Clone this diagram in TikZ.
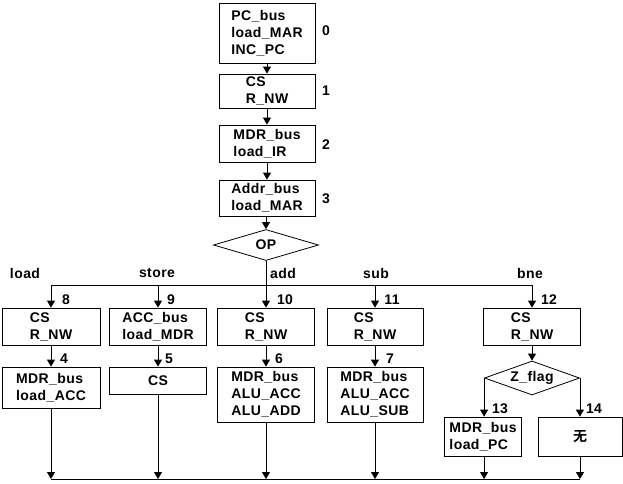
\documentclass[tikz,border=0pt]{standalone}
\usepackage{fontspec}
\setmainfont{Liberation Sans}[LetterSpace=3]
\newfontfamily\cjk{Noto Sans CJK SC}[BoldFont={* Bold}]
\usetikzlibrary{arrows.meta,shapes.geometric}
\begin{document}
\begin{tikzpicture}[x=1pt,y=-1pt,
  font=\fontsize{14}{17}\selectfont\bfseries,
  box/.style={draw,line width=0.8pt,align=left,inner sep=0pt},
  dia/.style={draw,line width=0.8pt,diamond,inner sep=0pt,aspect=3},
  lbl/.style={inner sep=0pt},
  arr/.style={line width=0.8pt,-{Triangle[length=7pt,width=8pt]}},
  ln/.style={line width=0.8pt}]
\useasboundingbox (0,0) rectangle (623,483);
% top chain
\node[box,minimum width=96pt,minimum height=60pt] (b0) at (267,33) {PC\_bus\\load\_MAR\\INC\_PC};
\node[box,minimum width=96pt,minimum height=34pt] (b1) at (267,91) {CS\\R\_NW};
\node[box,minimum width=96pt,minimum height=37pt] (b2) at (267,143.5) {MDR\_bus\\load\_IR};
\node[box,minimum width=96pt,minimum height=36pt] (b3) at (267,198) {Addr\_bus\\load\_MAR};
\node[lbl] (n0) at (326,31) {0};
\node[lbl] (n1) at (326,91) {1};
\node[lbl] (n2) at (326,145) {2};
\node[lbl] (n3) at (326,199) {3};
\node[dia,minimum width=105pt,minimum height=31pt] (op) at (266,245) {OP};
\draw[arr] (b0) -- (b1);
\draw[arr] (b1) -- (b2);
\draw[arr] (b2) -- (b3);
\draw[arr] (b3.south -| op.north) -- (op.north);
% row 1
\node[box,minimum width=98pt,minimum height=37pt] (b8) at (51,326.5) {CS\\R\_NW};
\node[box,minimum width=97pt,minimum height=37pt] (b9) at (158,326.5) {ACC\_bus\\load\_MDR};
\node[box,minimum width=97pt,minimum height=37pt] (b10) at (266,326.5) {CS\\R\_NW};
\node[box,minimum width=96pt,minimum height=37pt] (b11) at (375,326.5) {CS\\R\_NW};
\node[box,minimum width=97pt,minimum height=37pt] (b12) at (532,326.5) {CS\\R\_NW};
% bus
\coordinate (busL) at (51,285);
\coordinate (busR) at (532,285);
\coordinate (busM) at (266,285);
\draw[ln] (op.south) -- (busM);
\draw[ln] (busL) -- (busR);
\draw[arr] (busL) -- (b8.north);
\draw[arr] (busL -| b9.north) -- (b9.north);
\draw[arr] (busM) -- (b10.north);
\draw[arr] (busL -| b11.north) -- (b11.north);
\draw[arr] (busR) -- (b12.north);
\node[lbl] (tload) at (25,273) {load};
\node[lbl] (tstore) at (157,273) {store};
\node[lbl] (tadd) at (283,273) {add};
\node[lbl] (tsub) at (376,273) {sub};
\node[lbl] (tbne) at (530,273) {bne};
\node[lbl] (n8) at (66,300) {8};
\node[lbl] (n9) at (171,300) {9};
\node[lbl] (n10) at (285,300) {10};
\node[lbl] (n11) at (392,300) {11};
\node[lbl] (n12) at (549,300) {12};
% row 2
\node[box,minimum width=98pt,minimum height=41pt] (b4) at (51,387.5) {MDR\_bus\\load\_ACC};
\node[box,minimum width=97pt,minimum height=27pt] (b5) at (158,380.5) {CS};
\node[box,minimum width=97pt,minimum height=55pt] (b6) at (266,394.5) {MDR\_bus\\ALU\_ACC\\ALU\_ADD};
\node[box,minimum width=96pt,minimum height=55pt] (b7) at (375,394.5) {MDR\_bus\\ALU\_ACC\\ALU\_SUB};
\node[dia,minimum width=95pt,minimum height=34pt] (zf) at (532,378) {Z\_flag};
\draw[arr] (b8) -- (b4);
\draw[arr] (b9) -- (b5);
\draw[arr] (b10) -- (b6);
\draw[arr] (b11) -- (b7);
\draw[arr] (b12) -- (zf);
\node[lbl] (n4) at (64,359) {4};
\node[lbl] (n5) at (169,359) {5};
\node[lbl] (n6) at (279,359) {6};
\node[lbl] (n7) at (390,359) {7};
% branch
\node[box,minimum width=77pt,minimum height=39pt] (b13) at (483,436.5) {MDR\_bus\\load\_PC};
\node[box,minimum width=84pt,minimum height=39pt] (b14) at (580,436.5) {\cjk\bfseries 无};
\draw[arr] (zf.west) -- (zf.west |- b13.north);
\draw[arr] (zf.east) -- (zf.east |- b14.north);
\node[lbl] (n13) at (500,409) {13};
\node[lbl] (n14) at (594,409) {14};
% bottom
\coordinate (botL) at (51,479);
\coordinate (botR) at (580,479);
\draw[ln] (botL) -- (botR);
\draw[arr] (b4.south) -- (botL);
\draw[arr] (b5.south) -- (b5.south |- botL);
\draw[arr] (b6.south) -- (b6.south |- botL);
\draw[arr] (b7.south) -- (b7.south |- botL);
\draw[arr] (zf.west |- b13.south) -- (zf.west |- botL);
\draw[arr] (b14.south) -- (botR);
\end{tikzpicture}
\end{document}
